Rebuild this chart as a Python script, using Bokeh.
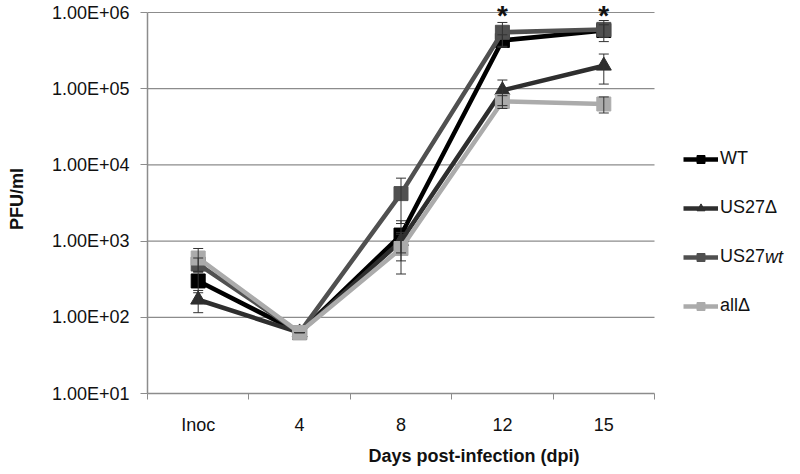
from bokeh.plotting import figure
from bokeh.models import (Range1d, FixedTicker, ColumnDataSource, Whisker, TeeHead,
                          Legend, LegendItem)
from bokeh.core.properties import value
from bokeh.embed import file_html
from bokeh.resources import INLINE

# ---------------- data ----------------
categories = ["Inoc", "4", "8", "12", "15"]

wt = [300, 63, 1200, 430000, 580000]
wt_sd = [90, 0, 650, 80000, 110000]

us27d = [170, 63, 1000, 95000, 200000]
us27d_sd = [55, 0, 300, 35000, 85000]

us27wt = [500, 63, 4200, 550000, 600000]
us27wt_sd = [100, 0, 2500, 190000, 185000]

alld = [600, 63, 800, 68000, 63000]
alld_sd = [200, 0, 430, 13000, 15000]

series_names = ["WT", "US27Δ", "US27", "allΔ"]
series_name_suffix = "wt"          # italic part of the third legend entry
series_colors = ["#000000", "#2e2e2e", "#505050", "#ababab"]
series_markers = ["square", "triangle", "square", "square"]

y_ticks = [1e1, 1e2, 1e3, 1e4, 1e5, 1e6]
y_tick_labels = ["1.00E+01", "1.00E+02", "1.00E+03", "1.00E+04", "1.00E+05", "1.00E+06"]

star_categories = ["12", "15"]
star_level = [1e6, 1e6]

FONT = "Liberation Sans"
GRID = "#8c8c8c"

# ---------------- layout ----------------
W, H = 800, 474
LEFT, RIGHT_EDGE, TOP_LINE, BOTTOM = 147, 654, 12, 393   # plot area in pixels
TOP_PAD = 8                                               # room above the top gridline
n = len(categories)
xs = [i + 0.5 for i in range(n)]
x_end = n * (W - LEFT) / (RIGHT_EDGE - LEFT)
px_per_decade = (BOTTOM - TOP_LINE) / 5.0
y_top = y_ticks[-1] * 10 ** (TOP_PAD / px_per_decade)

p = figure(width=W, height=H, y_axis_type="log", title=None,
           x_range=Range1d(0, x_end), y_range=Range1d(y_ticks[0], y_top),
           output_backend="svg", toolbar_location=None,
           min_border_left=LEFT, min_border_right=0,
           min_border_top=TOP_LINE - TOP_PAD, min_border_bottom=H - BOTTOM)
p.outline_line_color = None
p.background_fill_color = "white"
p.xgrid.visible = False
p.ygrid.visible = False

# horizontal gridlines limited to the category area
p.segment(x0=[0] * (len(y_ticks) - 1), x1=[n] * (len(y_ticks) - 1),
          y0=y_ticks[1:], y1=y_ticks[1:], line_color=GRID, line_width=1.2)

# x axis
p.xaxis.bounds = (0, n)
p.xaxis.ticker = FixedTicker(ticks=xs, minor_ticks=list(range(n + 1)))
p.xaxis.major_label_overrides = {x: c for x, c in zip(xs, categories)}
p.xaxis.major_tick_out = 0
p.xaxis.major_tick_in = 0
p.xaxis.minor_tick_out = 6
p.xaxis.minor_tick_in = 0
p.xaxis.minor_tick_line_color = GRID
p.xaxis.axis_line_color = GRID
p.xaxis.axis_line_width = 1.5
p.xaxis.major_label_text_font = FONT
p.xaxis.major_label_text_font_size = "18px"
p.xaxis.major_label_text_color = "#111111"
p.xaxis.major_label_standoff = 15
p.xaxis.axis_label = "Days post-infection (dpi)"
p.xaxis.axis_label_text_font = FONT
p.xaxis.axis_label_text_font_size = "18px"
p.xaxis.axis_label_text_font_style = "bold"
p.xaxis.axis_label_text_color = "#111111"
p.xaxis.axis_label_standoff = 8

# y axis
p.yaxis.bounds = (y_ticks[0], y_ticks[-1])
p.yaxis.ticker = FixedTicker(ticks=y_ticks)
p.yaxis.major_label_overrides = {t: l for t, l in zip(y_ticks, y_tick_labels)}
p.yaxis.major_tick_out = 7
p.yaxis.major_tick_in = 0
p.yaxis.minor_tick_out = 0
p.yaxis.minor_tick_in = 0
p.yaxis.major_tick_line_color = GRID
p.yaxis.axis_line_color = GRID
p.yaxis.axis_line_width = 1.5
p.yaxis.major_label_text_font = FONT
p.yaxis.major_label_text_font_size = "18px"
p.yaxis.major_label_text_color = "#111111"
p.yaxis.major_label_standoff = 11
p.yaxis.axis_label = "PFU/ml"
p.yaxis.axis_label_text_font = FONT
p.yaxis.axis_label_text_font_size = "18px"
p.yaxis.axis_label_text_font_style = "bold"
p.yaxis.axis_label_text_color = "#111111"
p.yaxis.axis_label_standoff = 22

# ---------------- series ----------------
all_values = [wt, us27d, us27wt, alld]
all_sd = [wt_sd, us27d_sd, us27wt_sd, alld_sd]

items = []
renderers = []
whisker_srcs = []
for name, vals, sd, col, mk in zip(series_names, all_values, all_sd, series_colors, series_markers):
    src = ColumnDataSource(dict(x=xs, y=vals,
                                upper=[v + s for v, s in zip(vals, sd)],
                                lower=[v - s for v, s in zip(vals, sd)]))
    ln = p.line("x", "y", source=src, line_color=col, line_width=4.5)
    size = 15 if mk == "triangle" else 14
    sc = p.scatter("x", "y", source=src, marker=mk, size=size,
                   fill_color=col, line_color=col)
    items.append(LegendItem(label=name, renderers=[ln, sc]))
    renderers.append((ln, sc))
    whisker_srcs.append(src)

for src in whisker_srcs:
    w = Whisker(source=src, base="x", upper="upper", lower="lower", dimension="height",
                line_color="#333333", line_width=1, level="overlay",
                upper_head=TeeHead(size=10, line_color="#333333", line_width=1),
                lower_head=TeeHead(size=10, line_color="#333333", line_width=1))
    p.add_layout(w)

# asterisks
star_x = [xs[categories.index(c)] for c in star_categories]
p.text(x=star_x, y=star_level, text=["*"] * len(star_x), text_font=value(FONT),
       text_font_size="28px", text_font_style="bold", text_color="#111111",
       text_align="center", text_baseline="alphabetic", y_offset=3)

# ---------------- legend ----------------
LEG_X = 683 - LEFT          # left edge of legend glyphs, from plot-area left
LEG_TOP = 152               # top of first legend row (page px)
ROW_H, ROW_GAP = 20, 28
leg_h = len(items) * ROW_H + (len(items) - 1) * ROW_GAP
legend = Legend(items=items, location=(LEG_X, BOTTOM - (LEG_TOP + leg_h)),
                orientation="vertical",
                glyph_width=35, glyph_height=ROW_H, label_height=ROW_H, spacing=ROW_GAP,
                padding=0, margin=0, border_line_color=None, background_fill_alpha=0,
                label_text_font=FONT, label_text_font_size="18px",
                label_text_color="#111111", label_standoff=2)
p.add_layout(legend)

# italic suffix "wt" of the US27wt entry
row3_bottom = LEG_TOP + 3 * ROW_H + 2 * ROW_GAP
legend2 = Legend(items=[LegendItem(label=series_name_suffix, renderers=list(renderers[2]))],
                 location=(LEG_X + 35 + 2 + 45, BOTTOM - row3_bottom),
                 glyph_width=0, glyph_height=ROW_H, label_height=ROW_H,
                 padding=0, margin=0, border_line_color=None, background_fill_alpha=0,
                 label_text_font=FONT, label_text_font_size="18px",
                 label_text_font_style="italic",
                 label_text_color="#111111", label_standoff=0)
p.add_layout(legend2)

open("out.html", "w").write(file_html(p, INLINE))
